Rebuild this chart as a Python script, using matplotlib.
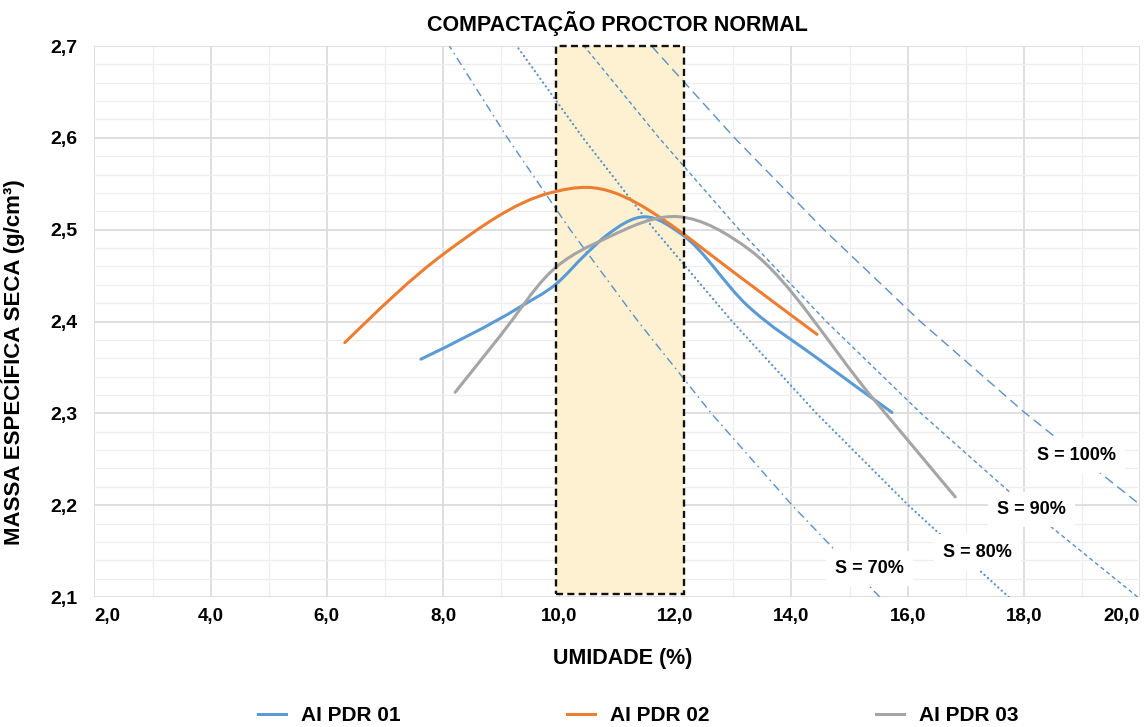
import numpy as np
import matplotlib
matplotlib.use("Agg")
import matplotlib.pyplot as plt
from matplotlib.path import Path
from matplotlib.patches import PathPatch, Rectangle
from matplotlib.lines import Line2D
from matplotlib.ticker import MultipleLocator

plt.rcParams['font.family'] = ['Liberation Sans', 'DejaVu Sans']
plt.rcParams['font.weight'] = 'bold'

# ---------------------------------------------------------------------------
# Dados
# ---------------------------------------------------------------------------
# curvas de compactação (umidade %, massa específica seca g/cm³)
pdr01_w = [7.62, 9.33, 9.95, 10.47, 10.82, 11.48, 12.13, 13.23, 14.49, 15.73]
pdr01_d = [2.359, 2.416, 2.441, 2.474, 2.494, 2.514, 2.494, 2.418, 2.358, 2.301]

pdr02_w = [6.31, 8.02, 9.84, 10.51, 12.15, 12.50, 14.44]
pdr02_d = [2.377, 2.474, 2.540, 2.546, 2.495, 2.478, 2.386]

pdr03_w = [8.21, 8.98, 9.84, 10.82, 12.08, 13.28, 15.38, 16.82]
pdr03_d = [2.323, 2.384, 2.453, 2.491, 2.514, 2.478, 2.318, 2.209]

# curvas de saturação (umidade para cada massa específica)
sat_dens = [2.1, 2.2, 2.3, 2.4, 2.5, 2.6, 2.7]
sat_100 = [22.17, 20.01, 18.03, 16.22, 14.56, 13.02, 11.59]
sat_90 = [19.96, 18.01, 16.23, 14.60, 13.10, 11.72, 10.43]
sat_80 = [17.74, 16.01, 14.43, 12.98, 11.64, 10.41, 9.27]
sat_70 = [15.52, 14.01, 12.62, 11.36, 10.19, 9.11, 8.11]

# faixa de umidade ótima destacada
faixa_w = [9.95, 12.15]

x_ticks = [2, 4, 6, 8, 10, 12, 14, 16, 18, 20]
x_labels = ['2,0', '4,0', '6,0', '8,0', '10,0', '12,0', '14,0', '16,0', '18,0', '20,0']
y_ticks = [2.1, 2.2, 2.3, 2.4, 2.5, 2.6, 2.7]
y_labels = ['2,1', '2,2', '2,3', '2,4', '2,5', '2,6', '2,7']


# ---------------------------------------------------------------------------
def curva_suave(xs, ys):
    """Path Bezier suave (Hermite) passando pelos pontos lidos."""
    x = np.asarray(xs, float)
    y = np.asarray(ys, float)
    h = np.diff(x)
    s = np.diff(y) / h
    m = np.empty_like(x)
    m[1:-1] = (s[:-1] * h[1:] + s[1:] * h[:-1]) / (h[:-1] + h[1:])
    m[0] = 1.5 * s[0] - 0.5 * m[1]
    m[-1] = 1.5 * s[-1] - 0.5 * m[-2]
    verts = [(x[0], y[0])]
    codes = [Path.MOVETO]
    for i in range(len(x) - 1):
        verts += [(x[i] + h[i] / 3, y[i] + m[i] * h[i] / 3),
                  (x[i + 1] - h[i] / 3, y[i + 1] - m[i + 1] * h[i] / 3),
                  (x[i + 1], y[i + 1])]
        codes += [Path.CURVE4] * 3
    return Path(verts, codes)


fig = plt.figure(figsize=(11.48, 7.27), dpi=100)
ax = fig.add_axes([0.0823, 0.1788, 0.9107, 0.7579])

ax.set_xlim(2.0, 20.0)
ax.set_ylim(2.1, 2.7)

# grade
ax.set_xticks(x_ticks, x_labels)
ax.set_yticks(y_ticks, y_labels)
ax.xaxis.set_minor_locator(MultipleLocator(1.0))
ax.yaxis.set_minor_locator(MultipleLocator(0.02))
ax.grid(which='major', color='#d9d9d9', lw=1.2, zorder=0)
ax.grid(which='minor', color='#eeeeee', lw=0.9, zorder=0)
ax.set_axisbelow(True)
for s in ax.spines.values():
    s.set_visible(False)
ax.tick_params(which='both', length=0)
ax.tick_params(axis='x', pad=8, labelsize=13.5)
ax.tick_params(axis='y', pad=12, labelsize=14)
xl = ax.get_xticklabels()
xl[0].set_ha('left')
xl[-1].set_ha('right')

# faixa destacada
ax.add_patch(Rectangle((faixa_w[0], 2.103), faixa_w[1] - faixa_w[0], 0.597,
                       facecolor='#fdf1d2', edgecolor='none', zorder=1))
ax.add_patch(Rectangle((faixa_w[0], 2.103), faixa_w[1] - faixa_w[0], 0.597,
                       facecolor='none', edgecolor='#111111', lw=1.7,
                       linestyle=(0, (3, 1.8)), zorder=6, clip_on=False))

# curvas de saturação
azul_sat = '#5b8fc9'
ax.plot(sat_100, sat_dens, color=azul_sat, lw=1.0, ls=(0, (7, 4)), zorder=2)
ax.plot(sat_90, sat_dens, color=azul_sat, lw=1.0, ls=(0, (3, 2.2)), zorder=2)
ax.plot(sat_80, sat_dens, color=azul_sat, lw=1.6, ls=(0, (0.1, 2.0)),
        dash_capstyle='round', zorder=2)
ax.plot(sat_70, sat_dens, color=azul_sat, lw=1.0, ls=(0, (6, 3, 1.2, 3)), zorder=2)

rotulos = ['S = 100%', 'S = 90%', 'S = 80%', 'S = 70%']
rot_w = [18.91, 18.14, 17.21, 15.35]
rot_d = [2.254, 2.195, 2.149, 2.131]
for t, x, y in zip(rotulos, rot_w, rot_d):
    ax.text(x, y, t, ha='center', va='center', fontsize=13, fontweight='bold',
            zorder=4, bbox=dict(boxstyle='square,pad=0.5', fc='white', ec='none'))

# curvas de compactação
series = [
    (pdr01_w, pdr01_d, '#5b9bd5', 'AI PDR 01'),
    (pdr02_w, pdr02_d, '#ed7d31', 'AI PDR 02'),
    (pdr03_w, pdr03_d, '#a5a5a5', 'AI PDR 03'),
]
handles = []
for xs, ys, cor, nome in series:
    ax.add_patch(PathPatch(curva_suave(xs, ys), facecolor='none', edgecolor=cor,
                           lw=2.2, capstyle='round', zorder=5))
    handles.append(Line2D([], [], color=cor, lw=2.2, label=nome))

ax.set_title('COMPACTAÇÃO PROCTOR NORMAL', fontsize=15.5, fontweight='bold', pad=11)
ax.set_xlabel('UMIDADE (%)', fontsize=15.5, fontweight='bold')
ax.xaxis.set_label_coords(0.505, -0.093)
ax.set_ylabel('MASSA ESPECÍFICA SECA (g/cm³)', fontsize=16, fontweight='bold')
ax.yaxis.set_label_coords(-0.066, 0.426)

fig.legend(handles=handles, loc='center', bbox_to_anchor=(0.556, 0.016), ncol=3,
           frameon=False, handlelength=1.35, handletextpad=0.72,
           columnspacing=8.0, prop={'weight': 'bold', 'size': 15})

fig.savefig('out.png', dpi=100)
